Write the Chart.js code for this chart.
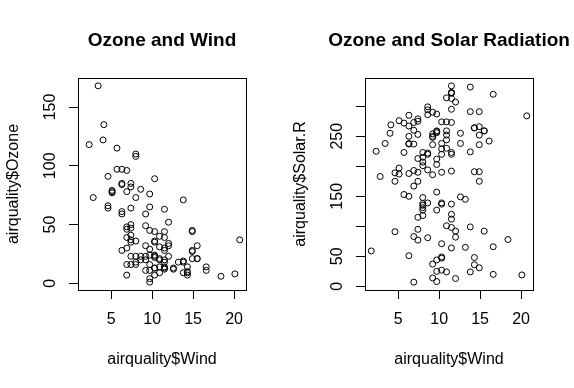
<!DOCTYPE html>
<html>
<head>
<meta charset="utf-8">
<script src="https://cdn.jsdelivr.net/npm/chart.js@4.4.1/dist/chart.umd.min.js"></script>
<style>
html, body { margin: 0; background: #fff; overflow: hidden; width: 574px; height: 388px; }
.panel { position: absolute; top: 0; width: 324px; height: 388px; }
</style>
</head>
<body>
<div class="panel" style="left:0"><canvas id="ozone-chart" width="324" height="388"></canvas></div>
<div class="panel" style="left:287px"><canvas id="solar-chart" width="324" height="388"></canvas></div>
<script>
// airquality columns (153 rows, null = NA)
var wind = [7.4,8.0,12.6,11.5,14.3,14.9,8.6,13.8,20.1,8.6,6.9,9.7,9.2,10.9,13.2,11.5,12.0,18.4,11.5,9.7,
  9.7,16.6,9.7,12.0,16.6,14.9,8.0,12.0,14.9,5.7,7.4,8.6,9.7,16.1,9.2,8.6,14.3,9.7,6.9,13.8,
  11.5,10.9,9.2,8.0,13.8,11.5,14.9,20.7,9.2,11.5,10.3,6.3,1.7,4.6,6.3,8.0,8.0,10.3,11.5,14.9,
  8.0,4.1,9.2,9.2,10.9,4.6,10.9,5.1,6.3,5.7,7.4,8.6,14.3,14.9,14.9,14.3,6.9,10.3,6.3,5.1,
  11.5,6.9,9.7,11.5,8.6,8.0,8.6,12.0,7.4,7.4,7.4,9.2,6.9,13.8,7.4,6.9,7.4,4.6,4.0,10.3,
  8.0,8.6,11.5,11.5,11.5,9.7,11.5,10.3,6.3,7.4,10.9,10.3,15.5,14.3,12.6,9.7,3.4,8.0,5.7,9.7,
  2.3,6.3,6.3,6.9,5.1,2.8,4.6,7.4,15.5,10.9,10.3,10.9,9.7,14.9,15.5,6.3,10.9,11.5,6.9,13.8,
  10.3,10.3,8.0,12.6,9.2,10.3,10.3,16.6,6.9,13.2,14.3,8.0,11.5];
var ozone = [41,36,12,18,null,28,23,19,8,null,7,16,11,14,18,14,34,6,30,11,
  1,11,4,32,null,null,null,23,45,115,37,null,null,null,null,null,null,29,null,71,
  39,null,null,23,null,null,21,37,20,12,13,null,null,null,null,null,null,null,null,null,
  null,135,49,32,null,64,40,77,97,97,85,null,10,27,null,7,48,35,61,79,
  63,16,null,null,80,108,20,52,82,50,64,59,39,9,16,78,35,66,122,89,
  110,null,null,44,28,65,null,22,59,23,31,44,21,9,null,45,168,73,null,76,
  118,84,85,96,78,73,91,47,32,20,23,21,24,44,21,28,9,13,46,18,
  13,24,16,13,23,36,7,14,30,null,14,18,20];
var solar = [190,118,149,313,null,null,299,99,19,194,null,256,290,274,65,334,307,78,322,44,
  8,320,25,92,66,266,null,13,252,223,279,286,287,242,186,220,264,127,273,291,
  323,259,250,148,332,322,191,284,37,120,137,150,59,91,250,135,127,47,98,31,
  138,269,248,236,101,175,314,276,267,272,175,139,264,175,291,48,260,274,285,187,
  220,7,258,295,294,223,81,82,213,275,253,254,83,24,77,null,null,null,255,229,
  207,222,137,192,273,157,64,71,51,115,244,190,259,36,255,212,238,215,153,203,
  225,237,188,167,197,183,189,95,92,252,220,230,259,236,259,238,24,112,237,224,
  27,238,201,238,14,139,49,20,193,145,191,131,223];

// axis ticks
var windTicks = [5, 10, 15, 20];
var ozoneTicks = [0, 50, 100, 150];
var ozoneLabels = ['0', '50', '100', '150'];
var solarTicks = [0, 50, 100, 150, 200, 250, 300];
var solarLabels = ['0', '50', '', '150', '', '250', ''];

var FONT = "'Liberation Sans', Arial, sans-serif";

function pairs(xs, ys) {
  var out = [];
  for (var i = 0; i < xs.length; i++) {
    if (ys[i] !== null && xs[i] !== null) out.push({x: xs[i], y: ys[i]});
  }
  return out;
}

var boxPlugin = {
  id: 'box',
  afterDraw: function(chart) {
    var a = chart.chartArea, c = chart.ctx;
    c.save();
    c.strokeStyle = '#000';
    c.lineWidth = 1;
    c.strokeRect(a.left + 0.5, a.top + 0.5, a.right - a.left, a.bottom - a.top);
    c.restore();
  }
};

function makeChart(id, ys, title, yTitle, yMin, yMax, yTicks, yLabels) {
  var ctx = document.getElementById(id).getContext('2d');
  return new Chart(ctx, {
    type: 'scatter',
    data: {
      datasets: [{
        data: pairs(wind, ys),
        borderColor: '#000',
        backgroundColor: 'rgba(0,0,0,0)',
        borderWidth: 1,
        pointRadius: 3,
        pointHoverRadius: 3
      }]
    },
    options: {
      responsive: false,
      animation: false,
      devicePixelRatio: 1,
      layout: { padding: 0 },
      scales: {
        x: {
          type: 'linear',
          min: 0.94,
          max: 21.46,
          afterBuildTicks: function(s) { s.ticks = windTicks.map(function(v) { return {value: v}; }); },
          afterFit: function(s) { s.height = 98; },
          border: { display: false },
          grid: { drawOnChartArea: false, drawTicks: true, tickLength: 9, color: '#000', lineWidth: 1 },
          ticks: { color: '#000', font: { family: FONT, size: 16 }, padding: 11, maxRotation: 0, autoSkip: false },
          title: { display: true, text: 'airquality$Wind', color: '#000', font: { family: FONT, size: 16 }, padding: { top: 0, bottom: 19 } }
        },
        y: {
          type: 'linear',
          min: yMin,
          max: yMax,
          afterBuildTicks: function(s) { s.ticks = yTicks.map(function(v) { return {value: v}; }); },
          afterFit: function(s) { s.width = 78; },
          border: { display: false },
          grid: { drawOnChartArea: false, drawTicks: true, tickLength: 9, color: '#000', lineWidth: 1 },
          ticks: {
            color: '#000', font: { family: FONT, size: 16 }, padding: 5,
            minRotation: 90, maxRotation: 90, crossAlign: 'center', autoSkip: false,
            callback: function(v, i) { return yLabels[i]; }
          },
          title: { display: true, text: yTitle, color: '#000', font: { family: FONT, size: 16 }, padding: { top: 4, bottom: 0 } }
        },
        // empty right margin so the title centres over the box
        yRight: {
          type: 'linear',
          position: 'right',
          afterFit: function(s) { s.width = 78; },
          border: { display: false },
          grid: { display: false },
          ticks: { display: false }
        }
      },
      plugins: {
        legend: { display: false },
        tooltip: { enabled: false },
        title: {
          display: true,
          text: title,
          color: '#000',
          font: { family: FONT, size: 19, weight: 'bold' },
          padding: { top: 29.6, bottom: 25.6 }
        }
      }
    },
    plugins: [boxPlugin]
  });
}

var ozoneChart = makeChart('ozone-chart', ozone, 'Ozone and Wind', 'airquality$Ozone', -5.68, 174.68, ozoneTicks, ozoneLabels);
var solarChart = makeChart('solar-chart', solar, 'Ozone and Solar Radiation', 'airquality$Solar.R', -6.08, 347.08, solarTicks, solarLabels);
</script>
</body>
</html>
